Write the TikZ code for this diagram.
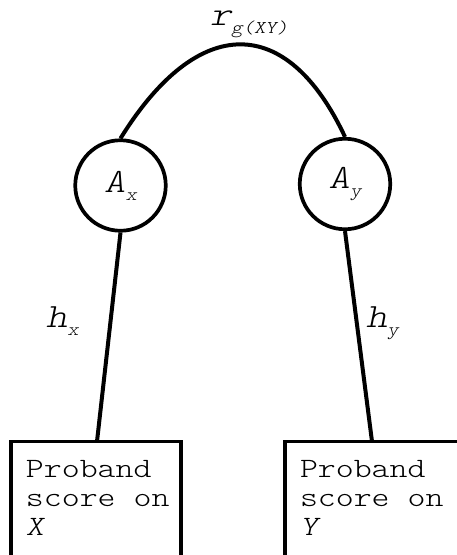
\documentclass[tikz,border=0pt]{standalone}
\usepackage{fontspec}
\usepackage{graphicx}
\newfontfamily\lmono{lmmonolt10-regular.otf}[ItalicFont=lmmonolt10-oblique.otf]
\newcommand\lbl[2]{\scalebox{1.2}[1]{\itshape #1\raisebox{-8pt}{\fontsize{18}{18}\selectfont #2}}}
\begin{document}
\begin{tikzpicture}[x=1pt,y=-1pt, line width=4pt,
  circ/.style={circle,draw,line width=3.7pt,minimum size=90.5pt,inner sep=0pt,font=\fontsize{34}{34}\selectfont\lmono},
  boxx/.style={rectangle,draw,line width=3.7pt,inner sep=0pt},
  lab/.style={inner sep=0pt,anchor=base west,font=\fontsize{34}{34}\selectfont\lmono},
  txt/.style={inner sep=0pt,anchor=north west,font=\fontsize{28}{29}\selectfont\lmono}]
\clip (0,0) rectangle (457,555);
\useasboundingbox (0,0) rectangle (457,555);
\fill[white] (0,0) rectangle (457,555);
\node[circ] (ax) at (120.5,185.5) {\lbl{A}{x}};
\node[circ] (ay) at (345,184) {\lbl{A}{y}};
\node[boxx,minimum width=170.5pt,minimum height=150pt] (bx) at (96,516.5) {};
\node[boxx,minimum width=190pt,minimum height=150pt] (by) at (380,516.5) {};
\coordinate (bxt) at (97,441.5);
\coordinate (byt) at (372,441.5);
\draw (ax.south) -- (bxt);
\draw (ay.south) -- (byt);
\draw (ax.north) .. controls (198,13.25) and (287,13.25) .. (ay.north);
\node[txt] (tx) at (24,454.7) {\scalebox{1.22}[1]{\begin{tabular}{@{}l@{}}Proband\\score on\\\textit{X}\end{tabular}}};
\node[txt] (ty) at (298,454.7) {\scalebox{1.22}[1]{\begin{tabular}{@{}l@{}}Proband\\score on\\\textit{Y}\end{tabular}}};
\node[lab] (rg) at (208,25) {\lbl{r}{g(XY)}};
\node[lab] (hx) at (44,327) {\lbl{h}{x}};
\node[lab] (hy) at (364,327) {\lbl{h}{y}};
\end{tikzpicture}
\end{document}
